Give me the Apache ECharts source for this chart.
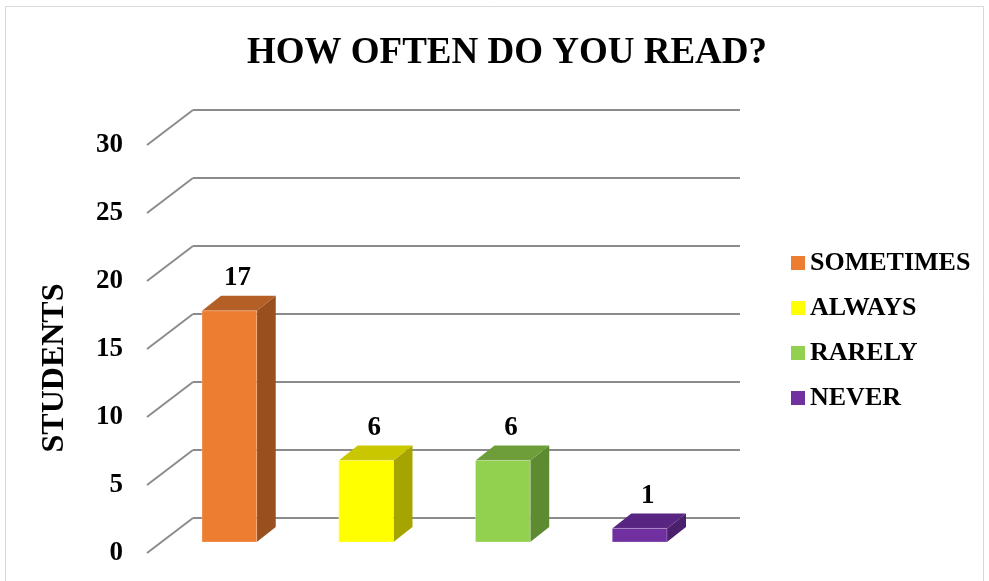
<!DOCTYPE html>
<html>
<head>
<meta charset="utf-8">
<style>
  html, body { margin: 0; padding: 0; background: #ffffff; }
  #chart { width: 989px; height: 581px; }
</style>
<script src="https://cdn.jsdelivr.net/npm/echarts@6/dist/echarts.min.js"></script>
</head>
<body>
<div id="chart"></div>
<script>
// Survey answers: how often students read
const categories = ['SOMETIMES', 'ALWAYS', 'RARELY', 'NEVER'];
const students = [17, 6, 6, 1];
const yTicks = [0, 5, 10, 15, 20, 25, 30];

// Face shades for each 3D column: front, top, side
const frontColors = ['#ED7D31', '#FFFF00', '#92D050', '#7030A0'];
const topColors = ['#B45F26', '#C9C700', '#6E9E3A', '#582582'];
const sideColors = ['#9A4F1F', '#A6A400', '#5E8A32', '#4A1F6C'];

const SERIF = '"Liberation Serif", "Times New Roman", serif';
const GRID_COLOR = '#8C8C8C';

// Oblique projection: floor depth and column depth (px)
const FLOOR = [-46, 35];
const FRONT_SHIFT = [-32, 24];
const DEPTH = [19, -15];

const chart = echarts.init(document.getElementById('chart'), null, { renderer: 'canvas' });

// Diagonal floor lines joining each back-wall gridline to the front edge
const floorSeries = {
  type: 'custom',
  xAxisIndex: 0,
  yAxisIndex: 0,
  silent: true,
  z: 1,
  data: yTicks.map(v => [0, v]),
  renderItem: function (params, api) {
    const p = api.coord([0, api.value(1)]);
    const x0 = params.coordSys.x;
    return {
      type: 'line',
      shape: { x1: x0, y1: p[1], x2: x0 + FLOOR[0], y2: p[1] + FLOOR[1] },
      style: { stroke: GRID_COLOR, lineWidth: 2 }
    };
  }
};

// One 3D column per answer
function columnSeries(i) {
  return {
    type: 'custom',
    name: categories[i],
    xAxisIndex: 0,
    yAxisIndex: 0,
    z: 3,
    itemStyle: { color: frontColors[i] },
    data: [[i, students[i]]],
    renderItem: function (params, api) {
      const idx = api.value(0);
      const val = api.value(1);
      const base = api.coord([idx, 0]);
      const top = api.coord([idx, val]);
      const w = api.size([1, 0])[0] * 0.4;
      const cx = base[0] + FRONT_SHIFT[0];
      const xl = cx - w / 2, xr = cx + w / 2;
      const yb = base[1] + FRONT_SHIFT[1];
      const yt = top[1] + FRONT_SHIFT[1];
      const dx = DEPTH[0], dy = DEPTH[1];
      return {
        type: 'group',
        children: [
          {
            type: 'polygon',
            shape: { points: [[xr, yt], [xr, yb], [xr + dx, yb + dy], [xr + dx, yt + dy]] },
            style: { fill: sideColors[i] }
          },
          {
            type: 'polygon',
            shape: { points: [[xl, yt], [xr, yt], [xr + dx, yt + dy], [xl + dx, yt + dy]] },
            style: { fill: topColors[i] }
          },
          {
            type: 'rect',
            shape: { x: xl, y: yt, width: w, height: yb - yt },
            style: { fill: frontColors[i], stroke: 'rgba(255,255,255,0.25)', lineWidth: 1 }
          },
          {
            type: 'text',
            style: {
              text: String(val),
              x: cx + 8,
              y: yt - 19,
              font: 'bold 27px ' + SERIF,
              fill: '#000000',
              textAlign: 'center',
              align: 'center',
              textVerticalAlign: 'bottom',
              verticalAlign: 'bottom'
            }
          }
        ]
      };
    }
  };
}

const option = {
  backgroundColor: '#ffffff',
  animation: false,
  title: {
    text: 'HOW OFTEN DO YOU READ?',
    left: 502,
    textAlign: 'center',
    top: 30,
    textStyle: { fontFamily: SERIF, fontWeight: 'bold', fontSize: 37, color: '#000000' }
  },
  legend: {
    orient: 'vertical',
    left: 791,
    top: 250,
    padding: 0,
    itemWidth: 14,
    itemHeight: 14,
    itemGap: 19,
    selectedMode: false,
    textStyle: { fontFamily: SERIF, fontWeight: 'bold', fontSize: 26, color: '#000000', lineHeight: 26 },
    data: categories.map((c, i) => ({ name: c, icon: 'rect', itemStyle: { color: frontColors[i] } }))
  },
  grid: [
    // back wall
    { left: 193, right: 249, top: 110, bottom: 63 },
    // front edge of the floor, carrying the value labels
    { left: 147, right: 295, top: 145, bottom: 28 }
  ],
  xAxis: [
    {
      type: 'category', gridIndex: 0, data: categories,
      axisLine: { show: false }, axisTick: { show: false }, axisLabel: { show: false }
    },
    {
      type: 'category', gridIndex: 1, data: categories, show: false
    }
  ],
  yAxis: [
    {
      type: 'value', gridIndex: 0, min: 0, max: 30, interval: 5,
      axisLine: { show: false }, axisTick: { show: false }, axisLabel: { show: false },
      splitLine: { show: true, lineStyle: { color: GRID_COLOR, width: 2 } }
    },
    {
      type: 'value', gridIndex: 1, min: 0, max: 30, interval: 5,
      axisLine: { show: false }, axisTick: { show: false }, splitLine: { show: false },
      axisLabel: {
        margin: 24,
        fontFamily: SERIF, fontWeight: 'bold', fontSize: 27, color: '#000000'
      }
    }
  ],
  graphic: [
    {
      type: 'rect',
      shape: { x: 5.5, y: 6.5, width: 978, height: 620 },
      style: { fill: 'none', stroke: '#D9D9D9', lineWidth: 1 },
      silent: true,
      z: -10
    },
    {
      type: 'text',
      x: 55,
      y: 368,
      rotation: Math.PI / 2,
      style: {
        text: 'STUDENTS',
        font: 'bold 32px ' + SERIF,
        fill: '#000000',
        textAlign: 'center',
        align: 'center',
        textVerticalAlign: 'middle',
        verticalAlign: 'middle'
      }
    }
  ],
  series: [floorSeries].concat(categories.map((c, i) => columnSeries(i)))
};

chart.setOption(option);
</script>
</body>
</html>
